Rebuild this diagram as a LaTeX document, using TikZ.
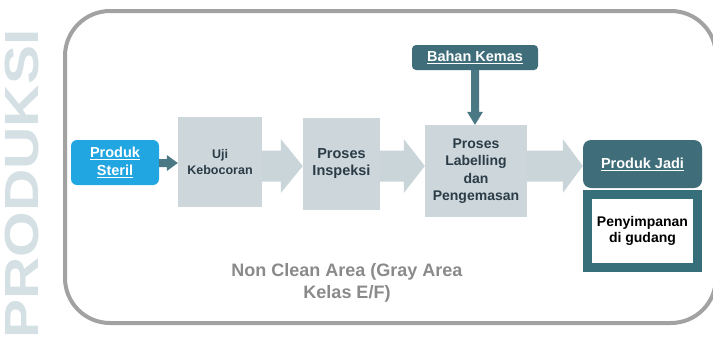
\documentclass[tikz,border=0pt]{standalone}
\usepackage{fontspec}
\setmainfont{Liberation Sans}
\usepackage{graphicx}
\usetikzlibrary{calc}

\definecolor{frameline}{HTML}{A2A2A2}
\definecolor{watermark}{HTML}{D4E0E4}
\definecolor{sterilblue}{HTML}{22A6E1}
\definecolor{stepfill}{HTML}{CCD6DB}
\definecolor{arrowlight}{HTML}{CAD5D9}
\definecolor{tealbox}{HTML}{3F6D7A}
\definecolor{tealarrow}{HTML}{4A7885}
\definecolor{storeline}{HTML}{366E79}
\definecolor{steptext}{HTML}{2B3C47}
\definecolor{areatext}{HTML}{8A8A8A}

% horizontal block arrow: style, start, tip, shaft half height, head half height, head length
\newcommand\blockarrow[6]{%
  \fill[#1] ($(#2)+(0,-#4)$) -- ($(#3)+(-#6,-#4)$) -- ($(#3)+(-#6,-#5)$) -- (#3)
    -- ($(#3)+(-#6,#5)$) -- ($(#3)+(-#6,#4)$) -- ($(#2)+(0,#4)$) -- cycle;}

\tikzset{
  stepbox/.style={rectangle, fill=stepfill, text=steptext, align=center,
    inner sep=0pt, font=\bfseries\fontsize{14.5}{17}\selectfont},
  tealhead/.style={rectangle, fill=tealbox, text=white, align=center,
    inner sep=0pt, font=\bfseries\fontsize{14.5}{17}\selectfont},
}

\begin{document}
\begin{tikzpicture}[x=1pt,y=-1pt]
  \useasboundingbox (0,0) rectangle (713,338);
  \clip (0,0) rectangle (713,338);

  % vertical watermark title (box trimmed to the capitals)
  \node[rotate=90, text=watermark, inner sep=0pt, text height=34.5pt, text depth=0pt,
        font=\bfseries\fontsize{48}{48}\selectfont] (title) at (21,184)
        {\scalebox{1.22}[1]{PRODUKSI}};

  % area frame
  \draw[frameline, line width=4pt, rounded corners=45pt] (65,11) rectangle (716,323);

  % process boxes
  \node[rectangle, fill=sterilblue, text=white, rounded corners=6pt, align=center,
        inner sep=0pt, minimum width=88pt, minimum height=45pt,
        font=\bfseries\fontsize{14.5}{18}\selectfont] (steril) at (115,162.5)
        {\underline{Produk}\\\underline{Steril}};
  \node[stepbox, minimum width=84pt, minimum height=90pt,
        font=\bfseries\fontsize{12.5}{16}\selectfont] (uji) at (220,162)
        {Uji\\Kebocoran};
  \node[stepbox, minimum width=77pt, minimum height=92pt] (insp) at (341.5,164)
        {Proses\\Inspeksi};
  \node[stepbox, minimum width=102pt, minimum height=92pt,
        font=\bfseries\fontsize{14}{17.5}\selectfont] (lab) at (476,171)
        {Proses\\Labelling\\dan\\Pengemasan};
  \node[tealhead, rounded corners=4pt, minimum width=126pt, minimum height=25pt]
        (bahan) at (475,57.5) {\underline{Bahan Kemas}};
  \node[tealhead, rounded corners=8pt, minimum width=119pt, minimum height=48pt]
        (jadi) at (642.5,164) {\underline{Produk Jadi}};
  \node[rectangle, draw=storeline, line width=9pt, fill=white, text=black,
        align=center, inner sep=0pt, minimum width=110pt, minimum height=73pt,
        font=\bfseries\fontsize{14}{16}\selectfont] (simpan) at (642.5,231)
        {Penyimpanan\\di gudang};

  % area label
  \node[text=areatext, align=center, inner sep=0pt,
        font=\bfseries\fontsize{18}{22}\selectfont] (area) at (347,283)
        {Non Clean Area (Gray Area\\Kelas E/F)};

  % flow arrows
  \coordinate (ys) at (0,163);
  \coordinate (yf) at (0,166);
  \coordinate (a0s) at (steril.east |- ys);
  \coordinate (a0e) at (uji.west |- ys);
  \coordinate (a1s) at (uji.east |- yf);
  \coordinate (a1e) at (insp.west |- yf);
  \coordinate (a2s) at (insp.east |- yf);
  \coordinate (a2e) at (lab.west |- yf);
  \coordinate (a3s) at (lab.east |- yf);
  \coordinate (a3e) at (jadi.west |- yf);

  \blockarrow{tealarrow}{a0s}{a0e}{4}{8}{11}
  \blockarrow{arrowlight}{a1s}{a1e}{15.5}{27}{22}
  \blockarrow{arrowlight}{a2s}{a2e}{15.5}{27}{21}
  \blockarrow{arrowlight}{a3s}{a3e}{15.5}{27}{20}

  % supply arrow from packaging material down into labelling
  \coordinate (bt) at (lab.north -| bahan.south);
  \fill[tealarrow] ($(bahan.south)+(-4,0)$) -- ($(bt)+(-4,-13)$) -- ($(bt)+(-8,-13)$)
    -- (bt) -- ($(bt)+(8,-13)$) -- ($(bt)+(4,-13)$) -- ($(bahan.south)+(4,0)$) -- cycle;
\end{tikzpicture}
\end{document}
